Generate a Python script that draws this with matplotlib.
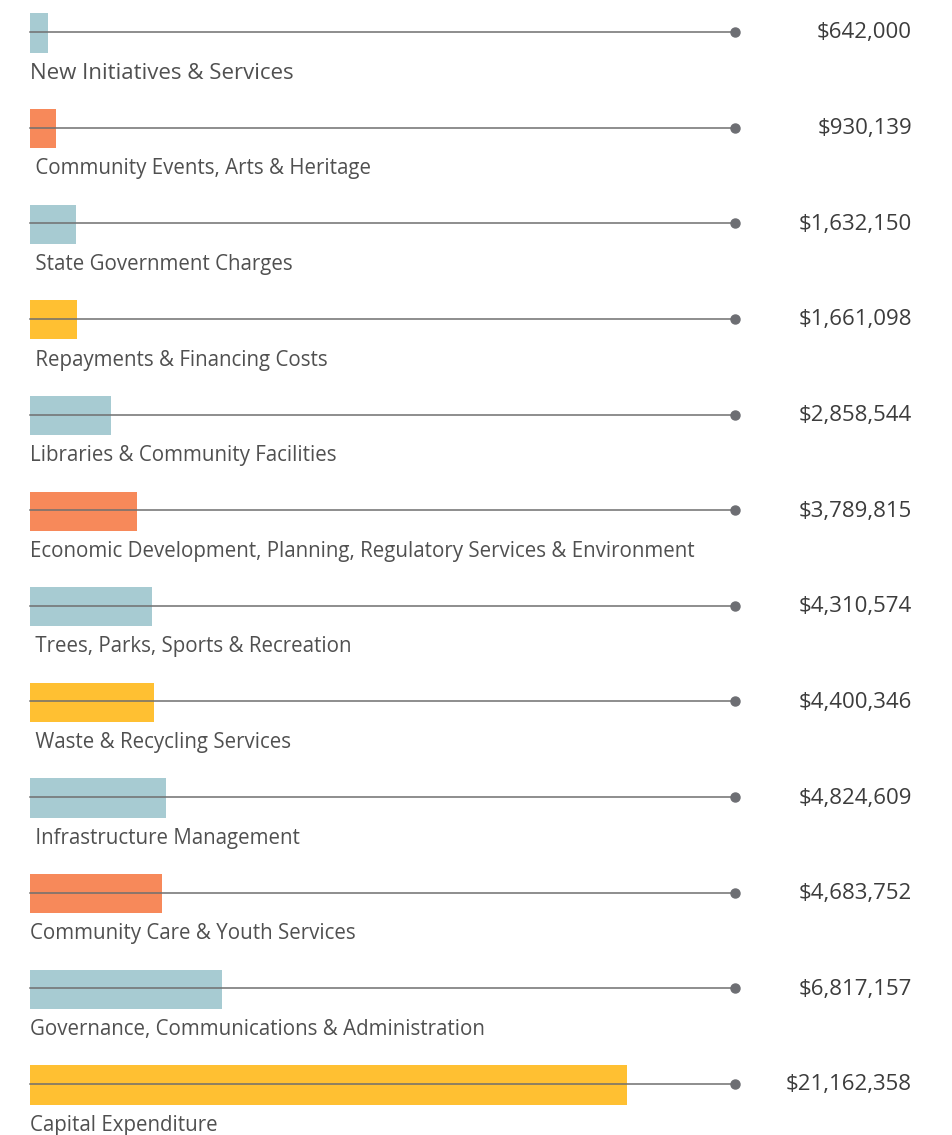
import matplotlib
matplotlib.use("Agg")
import matplotlib.pyplot as plt

# data
labels = ["New Initiatives & Services", " Community Events, Arts & Heritage",
          " State Government Charges", " Repayments & Financing Costs",
          "Libraries & Community Facilities",
          "Economic Development, Planning, Regulatory Services & Environment",
          " Trees, Parks, Sports & Recreation", " Waste & Recycling Services",
          " Infrastructure Management", "Community Care & Youth Services",
          "Governance, Communications & Administration", "Capital Expenditure"]
values = [642000, 930139, 1632150, 1661098, 2858544, 3789815,
          4310574, 4400346, 4824609, 4683752, 6817157, 21162358]
colors = ["#A7CBD2", "#F7895A", "#A7CBD2", "#FFC032"] * 3
line_end = 25000000

plt.rcParams['font.family'] = ['Open Sans', 'DejaVu Sans']

W, H = 953, 1135
fig = plt.figure(figsize=(W / 100, H / 100), dpi=100)
ax = fig.add_axes([0, 0, 1, 1])

# pixel mapping: x=0 at 30px, 21,162,358 at 627px
px = 21162358 / 597.0
ax.set_xlim(-30 * px, (W - 30) * px)
step = 1052 / 11.0
ax.set_ylim((H - 32) / step, -32 / step)
ax.axis("off")

for i, (lab, v, c) in enumerate(zip(labels, values, colors)):
    ax.barh(i + 0.01, v, height=0.41, color=c, left=0, zorder=1)
    ax.plot([0, line_end], [i, i], color="#6f6f6f", lw=1.1, zorder=2)
    ax.plot(line_end, i, "o", color="#6d6e73", ms=6.5, zorder=3)
    ax.text(0, i + 0.43, lab, ha="left", va="center",
            fontsize=16 if i == 0 else 14.8, color="#505050")
    ax.text(912 / W, i + 0.01, f"${v:,}", ha="right", va="center",
            fontsize=16, color="#3c3c3c",
            transform=ax.get_yaxis_transform())

fig.savefig("out.png", dpi=100)
